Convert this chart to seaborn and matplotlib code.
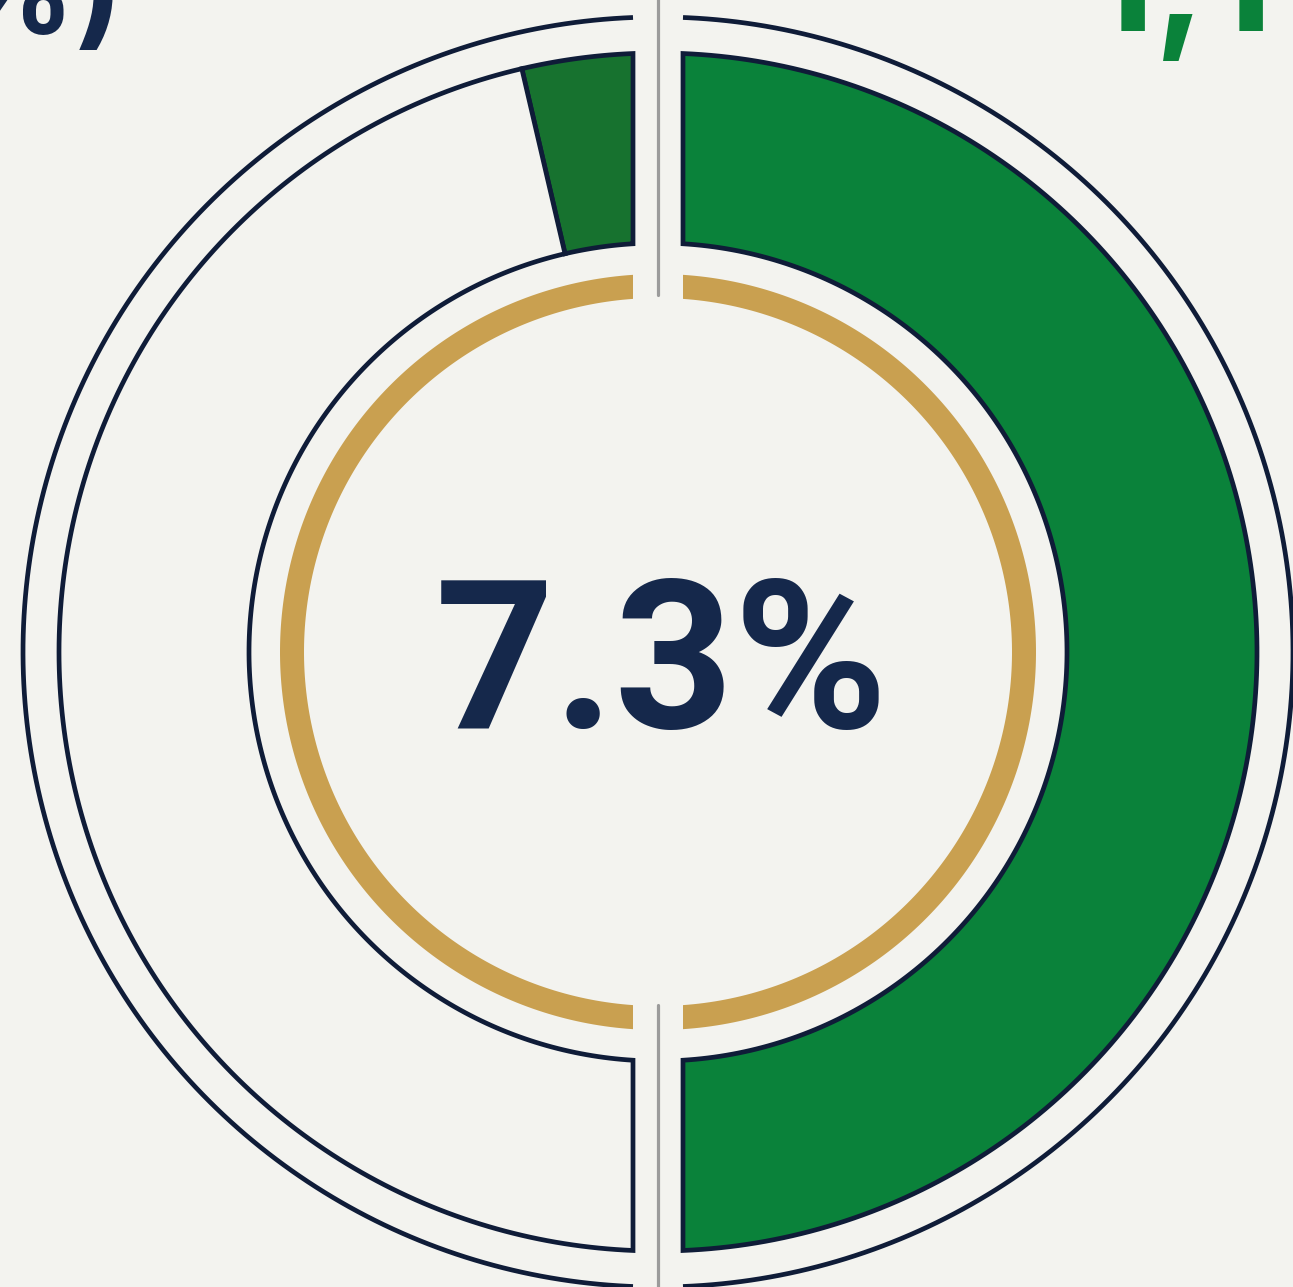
import numpy as np
import matplotlib
matplotlib.use("Agg")
import matplotlib.pyplot as plt
from matplotlib.patches import Polygon
import seaborn as sns

# data
left_labels = ["Highlighted", "Remaining"]
left_share = [7.3, 92.7]          # percent of the left half
right_labels = ["Total"]
right_share = [100.0]             # percent of the right half
center_label = "7.3%"
corner_left_text = "(7.3%)"
corner_right_text = "1,1"

navy = "#0f1c38"
text_navy = "#15284b"
green = "#0a823a"
dark_green = "#17722f"
gold = "#c9a050"
bg = "#f3f3ef"

sns.set_theme(style="white")
plt.rcParams["font.family"] = ["Inter", "DejaVu Sans"]

fig = plt.figure(figsize=(12.93, 12.87), dpi=100, facecolor=bg)
ax = fig.add_axes([0, 0, 1, 1])
ax.set_facecolor(bg)
ax.set_xlim(-658, 635)
ax.set_ylim(-635, 652)
ax.set_aspect("equal")
ax.axis("off")

gap = 25
r_out, r_in = 599, 409
r_ring = 635
gold_out, gold_in = 378, 354
edge_lw = 3.4


def side_range(r, side):
    d = np.degrees(np.arcsin(gap / r))
    if side == "left":
        return 90 + d, 270 - d
    return -90 + d, 90 - d


def sector(r1, r2, t1, t2, side, n=200):
    a1, b1 = side_range(r2, side)
    a2, b2 = side_range(r1, side)
    to = np.radians(np.linspace(max(t1, a1), min(t2, b1), n))
    ti = np.radians(np.linspace(min(t2, b2), max(t1, a2), n))
    xs = np.concatenate([r2 * np.cos(to), r1 * np.cos(ti)])
    ys = np.concatenate([r2 * np.sin(to), r1 * np.sin(ti)])
    return np.column_stack([xs, ys])


# left half: shares laid counter-clockwise from the top
start = 90.0
left_colors = [dark_green, bg]
for share, col in zip(left_share, left_colors):
    span = 180.0 * share / sum(left_share)
    ax.add_patch(Polygon(sector(r_in, r_out, start, start + span, "left"),
                         closed=True, facecolor=col, edgecolor=navy, lw=edge_lw, joinstyle="miter"))
    start += span

# right half
start = -90.0
for share in right_share:
    span = 180.0 * share / sum(right_share)
    ax.add_patch(Polygon(sector(r_in, r_out, start, start + span, "right"),
                         closed=True, facecolor=green, edgecolor=navy, lw=edge_lw, joinstyle="miter"))
    start += span

# outer thin ring
for side in ["left", "right"]:
    a, b = side_range(r_ring, side)
    t = np.radians(np.linspace(a, b, 400))
    ax.plot(r_ring * np.cos(t), r_ring * np.sin(t), color=navy, lw=edge_lw, solid_capstyle="butt")

# gold inner ring
for side, (a, b) in [("left", (90, 270)), ("right", (-90, 90))]:
    ax.add_patch(Polygon(sector(gold_in, gold_out, a, b, side), closed=True,
                         facecolor=gold, edgecolor="none"))

# centre divider
ax.plot([0, 0], [357, 660], color="#9b9b9b", lw=2.3)
ax.plot([0, 0], [-353, -640], color="#9b9b9b", lw=2.3)

ax.text(4, 652 - 728, center_label, ha="center", va="baseline", fontsize=150,
        fontweight="bold", color=text_navy, family=["Roboto", "DejaVu Sans"])

ax.text(124 - 658, 652 - 33, corner_left_text, ha="right", va="baseline",
        fontsize=92, fontweight="bold", color=text_navy)
ax.text(1088 - 658, 652 - 31, corner_right_text, ha="left", va="baseline",
        fontsize=112, fontweight="bold", color=green)

fig.savefig("out.png", dpi=100, facecolor=bg)
